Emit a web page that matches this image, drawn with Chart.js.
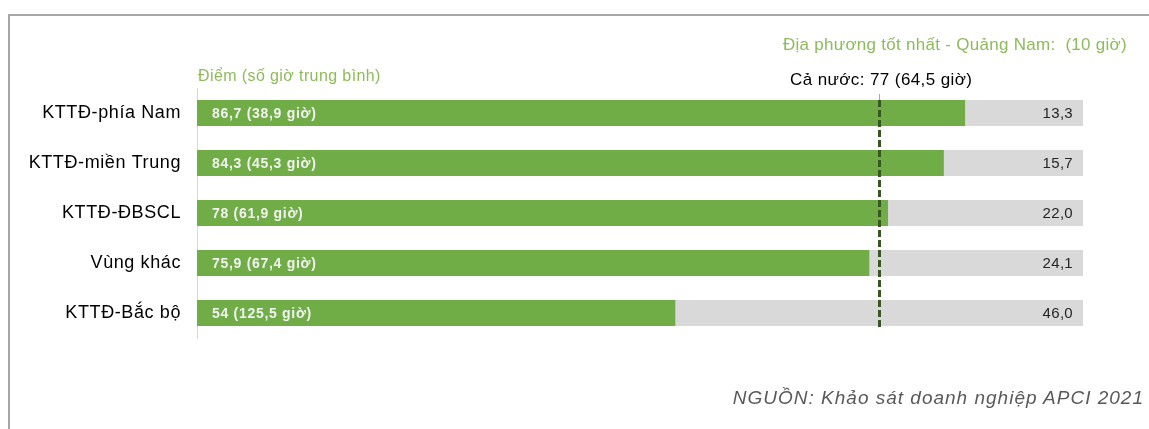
<!DOCTYPE html>
<html lang="vi">
<head>
  <meta charset="UTF-8">
  <title>Điểm (số giờ trung bình)</title>
  <script src="https://cdn.jsdelivr.net/npm/chart.js"></script>
  <style>
    body {
      margin: 0;
      width: 1149px;
      height: 429px;
      overflow: hidden;
      background: #fff;
      font-family: "Liberation Sans", Arial, sans-serif;
      position: relative;
    }
    .frame {
      position: absolute;
      left: 8px;
      top: 14px;
      right: 0;
      bottom: 0;
      border-left: 2px solid #a6a6a6;
      border-top: 2px solid #a6a6a6;
    }
    #chart {
      position: absolute;
      left: 0;
      top: 0;
    }
    .txt {
      position: absolute;
      white-space: pre;
    }
    .green { color: #8dbb5a; }
  </style>
</head>
<body>
<div class="frame"></div>
<canvas id="chart" width="1149" height="429"></canvas>
<div class="txt green" style="right:22px; top:35px; font-size:17px; letter-spacing:0.28px;">Địa phương tốt nhất - Quảng Nam:  (10 giờ)</div>
<div class="txt green" style="left:198px; top:67px; font-size:16px; letter-spacing:0.4px;">Điểm (số giờ trung bình)</div>
<div class="txt" style="left:790px; top:70px; font-size:17px; letter-spacing:0.4px; color:#000;">Cả nước: 77 (64,5 giờ)</div>
<div class="txt" style="right:5px; top:387px; font-size:19px; letter-spacing:1px; font-style:italic; color:#595959;">NGUỒN: Khảo sát doanh nghiệp APCI 2021</div>

<script>
const categories = ['KTTĐ-phía Nam', 'KTTĐ-miền Trung', 'KTTĐ-ĐBSCL', 'Vùng khác', 'KTTĐ-Bắc bộ'];
const scores = [86.7, 84.3, 78, 75.9, 54];
const hours = [38.9, 45.3, 61.9, 67.4, 125.5];
const remainder = [13.3, 15.7, 22.0, 24.1, 46.0];
const nationalScore = 77;

const FONT = '"Liberation Sans", Arial, sans-serif';
const comma = v => String(v).replace('.', ',');

// wider lettering for the category ticks
const spacing = {
  id: 'spacing',
  beforeDraw(chart) { chart.ctx.letterSpacing = '0.6px'; }
};

// labels inside bars + national average dashed line
const overlay = {
  id: 'overlay',
  afterDatasetsDraw(chart) {
    const ctx = chart.ctx;
    const green = chart.getDatasetMeta(0).data;
    const grey = chart.getDatasetMeta(1).data;
    ctx.save();
    ctx.textBaseline = 'middle';

    ctx.font = 'bold 14px ' + FONT;
    ctx.letterSpacing = '0.7px';
    ctx.fillStyle = '#f2f2f2';
    ctx.textAlign = 'left';
    green.forEach((bar, i) => {
      ctx.fillText(comma(scores[i]) + ' (' + comma(hours[i]) + ' giờ)', bar.base + 15, bar.y + 1);
    });

    ctx.font = '15px ' + FONT;
    ctx.letterSpacing = '0.3px';
    ctx.fillStyle = '#262626';
    ctx.textAlign = 'right';
    grey.forEach((bar, i) => {
      ctx.fillText(remainder[i].toFixed(1).replace('.', ','), bar.x - 10, bar.y + 1);
    });

    const x = Math.round(chart.scales.x.getPixelForValue(nationalScore)) + 0.5;
    ctx.strokeStyle = '#a6a6a6';
    ctx.lineWidth = 1;
    ctx.beginPath();
    ctx.moveTo(x, 94);
    ctx.lineTo(x, 100);
    ctx.stroke();
    ctx.strokeStyle = '#375623';
    ctx.lineWidth = 3;
    ctx.setLineDash([7, 3]);
    ctx.beginPath();
    ctx.moveTo(x, 100);
    ctx.lineTo(x, 330);
    ctx.stroke();
    ctx.restore();
  }
};

new Chart(document.getElementById('chart'), {
  type: 'bar',
  data: {
    labels: categories,
    datasets: [
      { data: scores, backgroundColor: '#70ad47' },
      { data: remainder, backgroundColor: '#d9d9d9' }
    ]
  },
  options: {
    indexAxis: 'y',
    responsive: false,
    animation: false,
    layout: { padding: { left: 0, right: 66, top: 88, bottom: 91 } },
    datasets: { bar: { categoryPercentage: 1, barPercentage: 0.52 } },
    plugins: { legend: { display: false }, tooltip: { enabled: false } },
    scales: {
      x: { stacked: true, min: 0, max: 100, display: false },
      y: {
        stacked: true,
        afterFit: s => { s.width = 197; },
        grid: { display: false, drawTicks: false },
        border: { display: true, color: '#d9d9d9', width: 1 },
        ticks: { padding: 16, color: '#000', font: { family: FONT, size: 18 } }
      }
    }
  },
  plugins: [spacing, overlay]
});
</script>
</body>
</html>
